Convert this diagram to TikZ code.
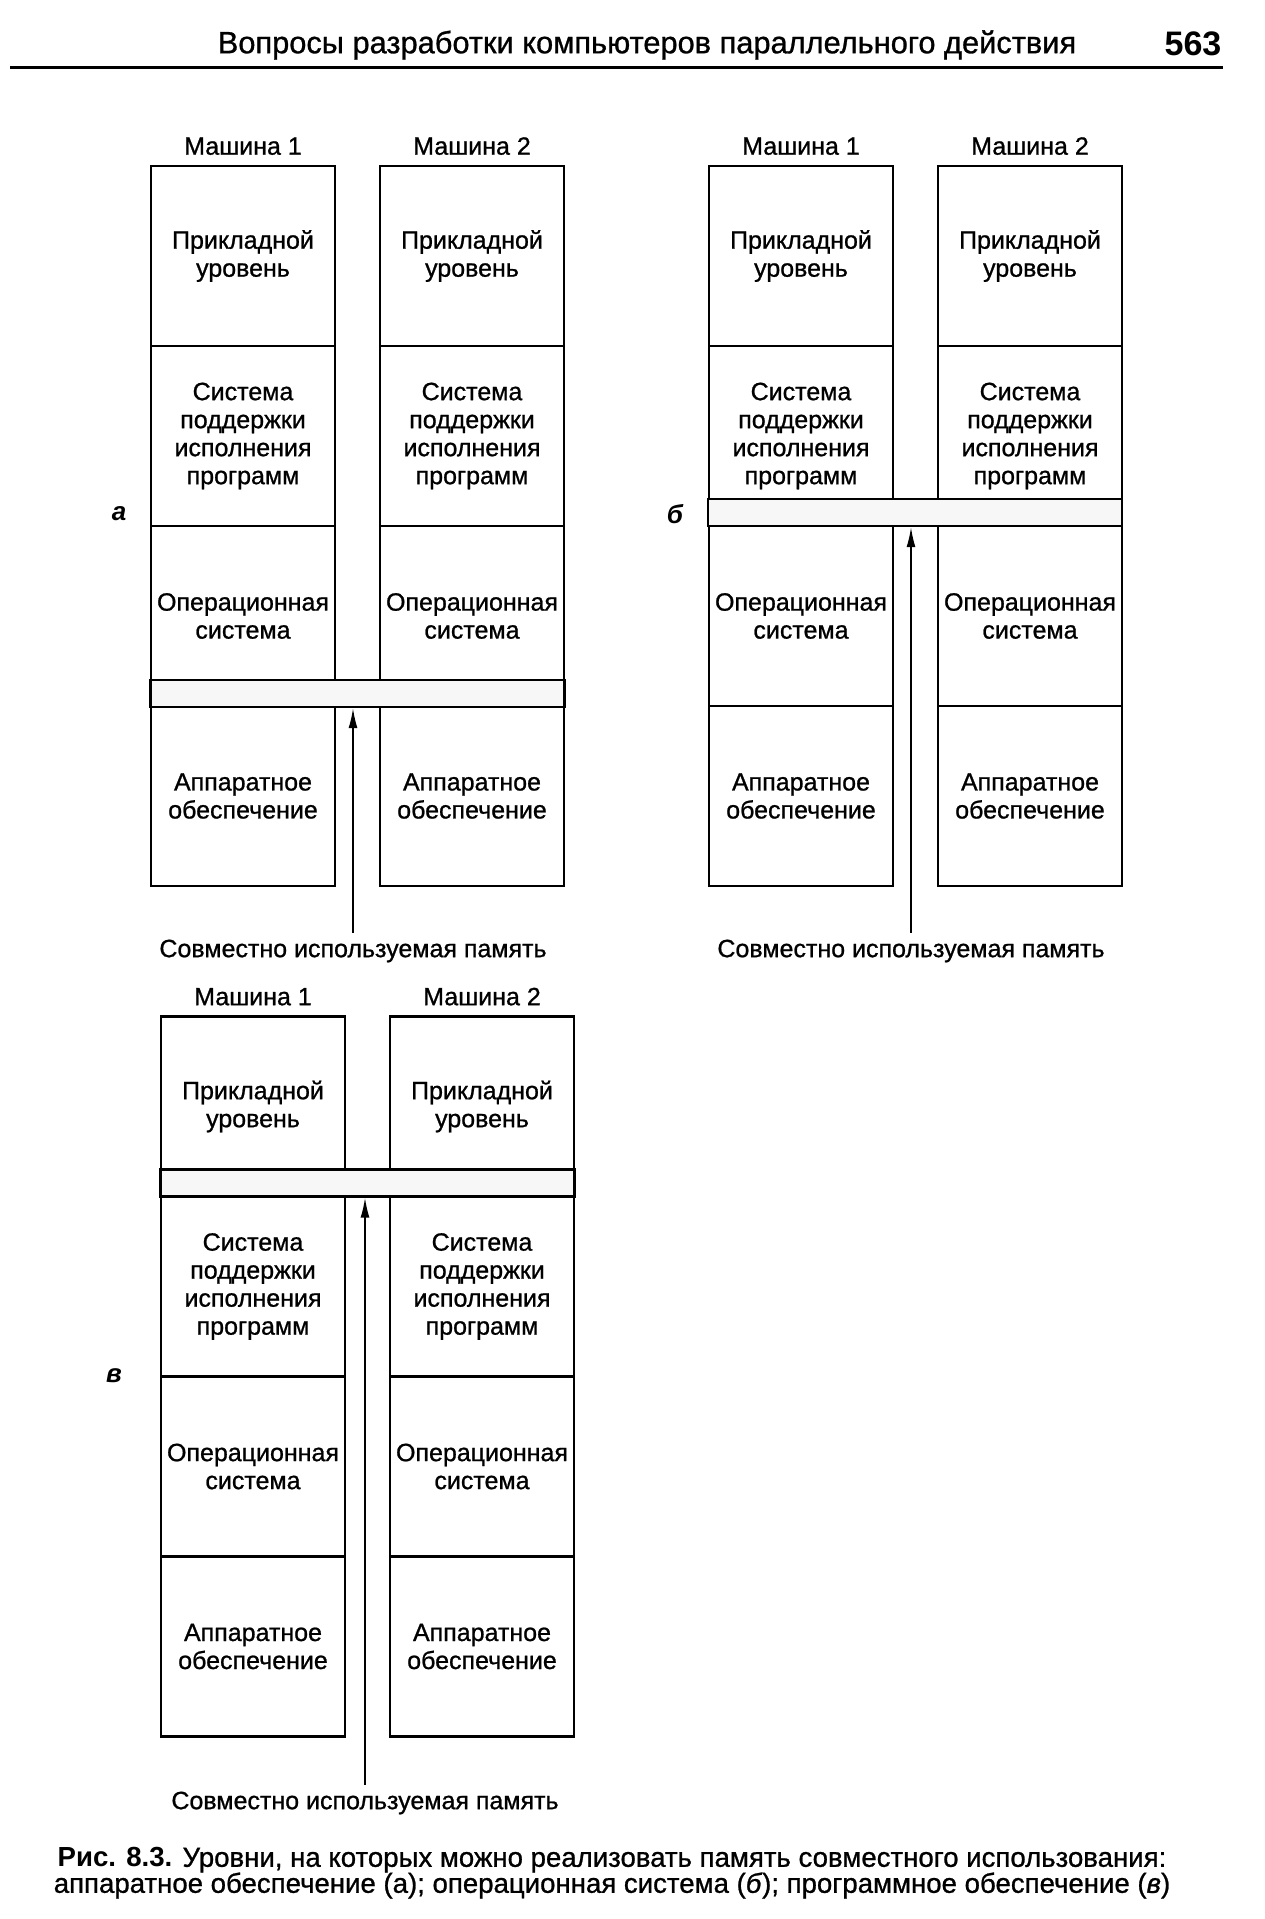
\documentclass[tikz,border=0pt]{standalone}
\usepackage{fontspec}
\setmainfont{Liberation Sans}[UprightFeatures={FakeBold=0.9},ItalicFeatures={FakeBold=0.9}]
\usetikzlibrary{positioning,arrows.meta}

\begin{document}
\begin{tikzpicture}[x=0.5pt, y=-0.5pt, font=\fontsize{12.5}{14}\selectfont,
      >={Latex[length=10pt,width=4.5pt]},
      lev/.style={draw, line width=1.2pt, minimum width=92pt, minimum height=90pt,
                  align=center, inner sep=1pt, outer sep=0pt},
      bus/.style={draw, line width=1.2pt, fill=black!3, minimum width=207pt,
                  minimum height=13.5pt, inner sep=0pt},
      ptr/.style={->, line width=0.8pt},
      tag/.style={font=\fontsize{13}{14}\selectfont\bfseries\itshape}]
  \useasboundingbox (0,0) rectangle (1265,1919);

  % header
  \node[font=\fontsize{15.4}{18}\selectfont] (ttl) at (647,45) {Вопросы разработки компьютеров параллельного действия};
  \node[font=\fontsize{17}{20}\selectfont\bfseries] (pg) at (1193,44) {563};
  \draw[line width=1.5pt] (10,67) -- (1223,67);

  % (a) shared memory on the hardware level
  \node[lev] (a1p) at (243,256) {Прикладной\\уровень};
  \node[lev, below=0pt of a1p] (a1s) {Система\\поддержки\\исполнения\\программ};
  \node[lev, below=0pt of a1s] (a1o) {Операционная\\система};
  \node[lev, below=0pt of a1o] (a1h) {Аппаратное\\обеспечение};
  \node[lev, right=22.5pt of a1p] (a2p) {Прикладной\\уровень};
  \node[lev, below=0pt of a2p] (a2s) {Система\\поддержки\\исполнения\\программ};
  \node[lev, below=0pt of a2s] (a2o) {Операционная\\система};
  \node[lev, below=0pt of a2o] (a2h) {Аппаратное\\обеспечение};
  \node[above=2pt of a1p] (a1m) {Машина 1};
  \node[above=2pt of a2p] (a2m) {Машина 2};
  \node[bus] (abus) at (357.5,693.5) {};
  \node (amem) at (353,951) {Совместно используемая память};
  \draw[ptr] (amem.north) -- (amem.north |- abus.south);
  \node[tag] (alab) at (119,514) {а};

  % (b) shared memory on the OS level
  \node[lev] (b1p) at (801,256) {Прикладной\\уровень};
  \node[lev, below=0pt of b1p] (b1s) {Система\\поддержки\\исполнения\\программ};
  \node[lev, below=0pt of b1s] (b1o) {Операционная\\система};
  \node[lev, below=0pt of b1o] (b1h) {Аппаратное\\обеспечение};
  \node[lev, right=22.5pt of b1p] (b2p) {Прикладной\\уровень};
  \node[lev, below=0pt of b2p] (b2s) {Система\\поддержки\\исполнения\\программ};
  \node[lev, below=0pt of b2s] (b2o) {Операционная\\система};
  \node[lev, below=0pt of b2o] (b2h) {Аппаратное\\обеспечение};
  \node[above=2pt of b1p] (b1m) {Машина 1};
  \node[above=2pt of b2p] (b2m) {Машина 2};
  \node[bus] (bbus) at (915,512.5) {};
  \node (bmem) at (911,951) {Совместно используемая память};
  \draw[ptr] (bmem.north) -- (bmem.north |- bbus.south);
  \node[tag] (blab) at (675,514) {б};

  % (c) shared memory on the runtime level
  \node[lev] (v1p) at (253,1106.5) {Прикладной\\уровень};
  \node[lev, below=0pt of v1p] (v1s) {Система\\поддержки\\исполнения\\программ};
  \node[lev, below=0pt of v1s] (v1o) {Операционная\\система};
  \node[lev, below=0pt of v1o] (v1h) {Аппаратное\\обеспечение};
  \node[lev, right=22.5pt of v1p] (v2p) {Прикладной\\уровень};
  \node[lev, below=0pt of v2p] (v2s) {Система\\поддержки\\исполнения\\программ};
  \node[lev, below=0pt of v2s] (v2o) {Операционная\\система};
  \node[lev, below=0pt of v2o] (v2h) {Аппаратное\\обеспечение};
  \node[above=2pt of v1p] (v1m) {Машина 1};
  \node[above=2pt of v2p] (v2m) {Машина 2};
  \node[bus] (vbus) at (367.5,1183) {};
  \node (vmem) at (365,1803) {Совместно используемая память};
  \draw[ptr] (vmem.north) -- (vmem.north |- vbus.south);
  \node[tag] (vlab) at (114,1376) {в};

  % caption
  \node[font=\fontsize{13.8}{13}\selectfont, align=center] (cap) at (612,1873)
    {\textbf{Рис. 8.3.} Уровни, на которых можно реализовать память совместного использования:\\
     аппаратное обеспечение (а); операционная система (\textit{б}); программное обеспечение (\textit{в})};
\end{tikzpicture}
\end{document}
